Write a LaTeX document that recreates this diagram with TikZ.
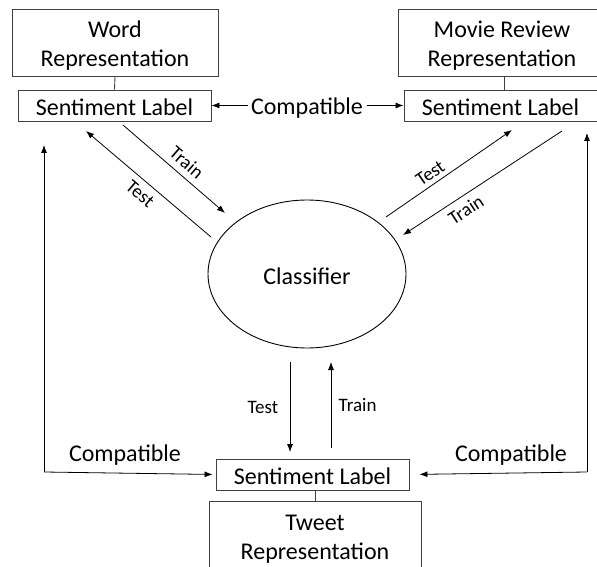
\documentclass[tikz,border=0pt]{standalone}
\usepackage{fontspec}
\setmainfont{Carlito}
\usetikzlibrary{arrows.meta,positioning,shapes.geometric}

\begin{document}
\begin{tikzpicture}[
      x=1pt,y=-1pt,
      mybox/.style={
         rectangle,
         draw=black!75,
         line width=0.9pt,
         inner sep=0pt,
         align=center,
         font=\fontsize{24}{29}\selectfont},
      myellipse/.style={
         ellipse,
         draw=black,
         line width=0.9pt,
         minimum width=198pt,
         minimum height=148pt,
         font=\fontsize{24}{29}\selectfont},
      mytext/.style={font=\fontsize{24}{29}\selectfont},
      mysmall/.style={font=\fontsize{19}{22}\selectfont},
      myarrow/.style={-{Latex[length=8pt,width=6pt]},line width=0.8pt}
      ]
      \useasboundingbox (0,0) rectangle (597,567);
      \clip (0,0) rectangle (597,567);

      % boxes
      \node[mybox,minimum width=206pt,minimum height=67pt] (wordrep) at (115,42.5) {};
      \node[mybox,draw=none] at (115,46) {Word\\Representation};
      \node[mybox,minimum width=193pt,minimum height=31pt] (sentL) at (114.5,105.5) {};
      \node[mybox,draw=none] at (114.5,107.5) {Sentiment Label};
      \node[mybox,minimum width=208pt,minimum height=67pt] (movierep) at (502,42.5) {};
      \node[mybox,draw=none] at (502,46) {Movie Review\\Representation};
      \node[mybox,minimum width=193pt,minimum height=31pt] (sentR) at (500.5,105.5) {};
      \node[mybox,draw=none] at (500.5,107.5) {Sentiment Label};
      \node[mybox,minimum width=193pt,minimum height=31pt] (sentB) at (312.5,474.5) {};
      \node[mybox,draw=none] at (312.5,476.5) {Sentiment Label};
      \node[mybox,minimum width=212pt,minimum height=67pt] (tweetrep) at (315,534.5) {};
      \node[mybox,draw=none] at (315,539.5) {Tweet\\Representation};
      \node[myellipse] (clf) at (307,274) {};
      \node[mytext] at (307,276) {Classifier};

      \node[mytext] (compatT) at (307,108) {Compatible};
      \node[mytext] (compatL) at (125,455) {Compatible};
      \node[mytext] (compatR) at (511,455) {Compatible};

      \draw[black!75,line width=0.9pt] (wordrep.south) -- (sentL.north);
      \draw[black!75,line width=0.9pt] (movierep.south -| sentR.north) ++(3.5,0) -- ++(0,14);
      \draw[black!75,line width=0.9pt] (tweetrep.north) -- (tweetrep.north |- sentB.south);

      \draw[myarrow] (compatT.west |- sentL.east) -- (sentL.east);
      \draw[myarrow] (compatT.east |- sentR.west) -- (sentR.west);

      % arrow ends
      \coordinate (lTrA) at (123,125);
      \coordinate (lTrB) at (225,213);
      \coordinate (lTeA) at (211,237);
      \coordinate (lTeB) at (86,131);
      \coordinate (rTeA) at (386,217);
      \coordinate (rTeB) at (512,130);
      \coordinate (rTrA) at (562,131);
      \coordinate (rTrB) at (403,235);
      \coordinate (bTeA) at (290,362);
      \coordinate (bTeB) at (290,452);
      \coordinate (bTrA) at (331,448);
      \coordinate (bTrB) at (331,362);
      \coordinate (lTop) at (44,145);
      \coordinate (lBot) at (44,472);
      \coordinate (rTop) at (587,133);
      \coordinate (rBot) at (587,472);

    \foreach \i/\j/\txt/\p/\d/\q in {% start/end/text/position/distance/pos
      lTrA/lTrB/Train/above/3pt/0.54,
      lTeA/lTeB/Test/below/3pt/0.50,
      rTeA/rTeB/Test/above/1pt/0.40,
      rTrA/rTrB/Train/below/3pt/0.65}
       \draw [myarrow] (\i) -- node[sloped,mysmall,\p=\d,pos=\q] {\txt} (\j);

      \draw[myarrow] (bTeA) -- node[mysmall,left=8pt] {Test} (bTeB);
      \draw[myarrow] (bTrA) -- node[mysmall,right=4pt] {Train} (bTrB);

      \draw[myarrow] (lBot) -- (lTop);
      \draw[myarrow,shorten >=3pt] (lBot) -- (sentB.west);
      \draw[myarrow] (rBot) -- (rTop);
      \draw[myarrow,shorten >=10pt] (rBot) -- (sentB.east);

    \end{tikzpicture}
\end{document}
